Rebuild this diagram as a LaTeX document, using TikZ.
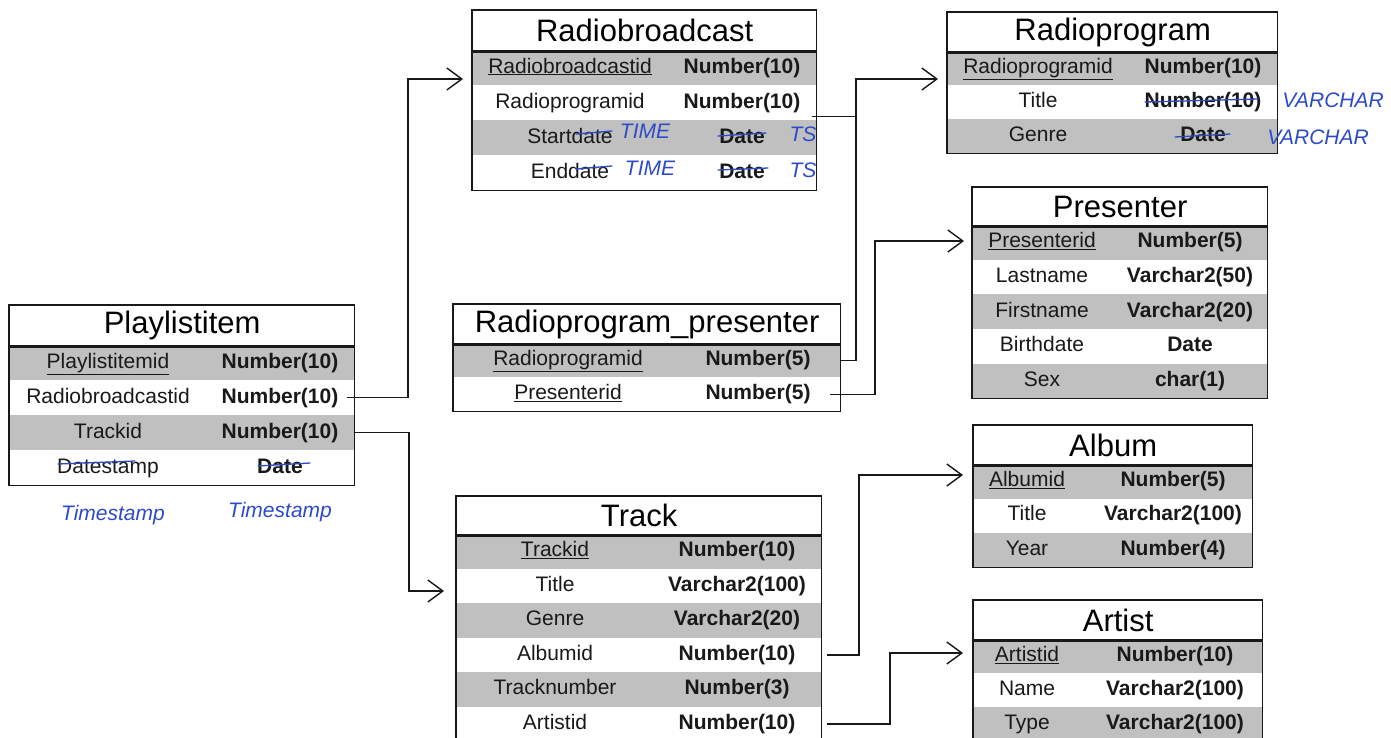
\documentclass[tikz,border=0pt]{standalone}
\usepackage{fontspec}
\setmainfont{Liberation Sans}
\usetikzlibrary{arrows.meta}
\definecolor{rowgray}{RGB}{192,192,192}
\definecolor{pen}{RGB}{45,75,200}
\definecolor{ink}{RGB}{25,25,25}
\newcommand\dbtable[9]{%
  \pgfmathsetmacro\tw{#4-#2}%
  \node[hdr, minimum width=\tw, minimum height=#5] (#1) at (#2,#3) {#9};
  \foreach \n/\t/\c [count=\i] in \dbrows {%
    \pgfmathsetmacro\ry{#3+#5+(\i-1)*#6}%
    \pgfmathsetmacro\rc{\ry+#6/2}%
    \node[\c, minimum width=\tw, minimum height=#6] (#1-\i) at (#2,\ry) {};
    \node[cname] (#1-\i-n) at (#7,\rc) {\n};
    \node[ctype] (#1-\i-t) at (#8,\rc) {\t};
    \xdef\lastrow{\i}%
  }
  \draw[frame] (#1.north west) rectangle (#1-\lastrow.south east);
  \draw[ink, line width=2.4pt] (#1.south west) -- (#1.south east);
}
\begin{document}
\begin{tikzpicture}[x=1pt,y=-1pt,
  frame/.style={draw=ink, line width=1.3pt},
  hdr/.style={draw=ink, line width=1.3pt, fill=white, anchor=north west, inner sep=0pt, font=\fontsize{31}{34}\selectfont},
  rowg/.style={fill=rowgray, anchor=north west, inner sep=0pt},
  roww/.style={fill=white, anchor=north west, inner sep=0pt},
  cname/.style={font=\fontsize{21}{24}\selectfont, inner sep=2pt, text height=15pt, text depth=4pt, text=ink},
  ctype/.style={font=\fontsize{21}{24}\selectfont\bfseries, inner sep=2pt, text height=15pt, text depth=4pt, text=ink},
  conn/.style={draw=ink, line width=1.4pt, -{Straight Barb[length=15pt,width=22pt]}},
  link/.style={draw=ink, line width=1.4pt},
  hand/.style={text=pen, font=\fontsize{21}{24}\selectfont\itshape, inner sep=0pt},
  strike/.style={draw=pen, line width=1.3pt, line cap=round}
]
\useasboundingbox[fill=white] (0,0) rectangle (1391,737);

% Playlistitem
\def\dbrows{{\underline{Playlistitemid}}/Number(10)/rowg, Radiobroadcastid/Number(10)/roww, Trackid/Number(10)/rowg, Datestamp/Date/roww}
\dbtable{pl}{9}{305}{354}{40}{35}{108}{280}{Playlistitem}

% Radiobroadcast
\def\dbrows{{\underline{Radiobroadcastid}}/Number(10)/rowg, Radioprogramid/Number(10)/roww, Startdate/Date/rowg, Enddate/Date/roww}
\dbtable{rb}{472}{10}{816}{40}{35}{570}{742}{Radiobroadcast}

% Radioprogram
\def\dbrows{{\underline{Radioprogramid}}/Number(10)/rowg, Title/Number(10)/roww, Genre/Date/rowg}
\dbtable{rp}{947}{12}{1277}{39}{34}{1038}{1203}{Radioprogram}

% Radioprogram_presenter
\def\dbrows{{\underline{Radioprogramid}}/Number(5)/rowg, {\underline{Presenterid}}/Number(5)/roww}
\dbtable{rpp}{453}{304}{840}{39}{34}{568}{758}{Radioprogram\_presenter}

% Presenter
\def\dbrows{{\underline{Presenterid}}/Number(5)/rowg, Lastname/Varchar2(50)/roww, Firstname/Varchar2(20)/rowg, Birthdate/Date/roww, Sex/char(1)/rowg}
\dbtable{pr}{972}{187}{1267}{38}{34.6}{1042}{1190}{Presenter}

% Album
\def\dbrows{{\underline{Albumid}}/Number(5)/rowg, Title/Varchar2(100)/roww, Year/Number(4)/rowg}
\dbtable{al}{973}{425}{1252}{39}{34.3}{1027}{1173}{Album}

% Artist
\def\dbrows{{\underline{Artistid}}/Number(10)/rowg, Name/Varchar2(100)/roww, Type/Varchar2(100)/rowg}
\dbtable{ar}{973}{600}{1262}{39}{34}{1027}{1175}{Artist}

% Track
\def\dbrows{{\underline{Trackid}}/Number(10)/rowg, Title/Varchar2(100)/roww, Genre/Varchar2(20)/rowg, Albumid/Number(10)/roww, Tracknumber/Number(3)/rowg, Artistid/Number(10)/roww}
\dbtable{tr}{456}{496}{821}{38}{34.5}{555}{737}{Track}

% connectors
\coordinate (k1) at (408,79);
\draw[conn] ([xshift=6pt]pl-2-t.east) -| (k1) -- ([xshift=-9pt]rb-1.west |- k1);
\coordinate (k2) at (409,591);
\draw[conn] (pl-3.east) -| (k2) -- ([xshift=-12pt]tr-2.west |- k2);
\coordinate (k3) at (856,79);
\draw[conn] (rpp-1.east) -| (k3) -- ([xshift=-9pt]rp-1.west |- k3);
\draw[link] ([xshift=-4pt,yshift=4pt]rb-2.south east) coordinate (s3) -- (s3 -| k3);
\coordinate (k4) at (875,241);
\draw[conn] ([xshift=-10pt]rpp-2.east) -| (k4) -- ([xshift=-8pt]pr-1.west |- k4);
\coordinate (k5) at (859,475);
\draw[conn] ([xshift=6pt]tr-4.east) -| (k5) -- ([xshift=-10pt]al-1.west |- k5);
\coordinate (k6) at (890,653);
\draw[conn] ([xshift=6pt]tr-6.east) -| (k6) -- ([xshift=-10pt]ar-1.west |- k6);

% handwritten annotations
\node[hand] (h1) at (113,515) {Timestamp};
\node[hand] (h2) at (280,512) {Timestamp};
\node[hand] (h3) at (645,131) {TIME};
\node[hand] (h4) at (650,168) {TIME};
\node[hand] (h5) at (803,134) {TS};
\node[hand] (h6) at (803,170) {TS};
\node[hand] (h7) at (1333,100) {VARCHAR};
\node[hand] (h8) at (1318,137) {VARCHAR};
\draw[strike] (576,134) -- (612,131);
\draw[strike] (718,136) -- (766,133);
\draw[strike] (576,169) -- (612,166);
\draw[strike] (718,170) -- (768,168);
\draw[strike] (58,464) -- (135,461);
\draw[strike] (258,466) -- (310,463);
\draw[strike] (1145,102) -- (1258,99);
\draw[strike] (1175,137) -- (1230,134);
\end{tikzpicture}
\end{document}
